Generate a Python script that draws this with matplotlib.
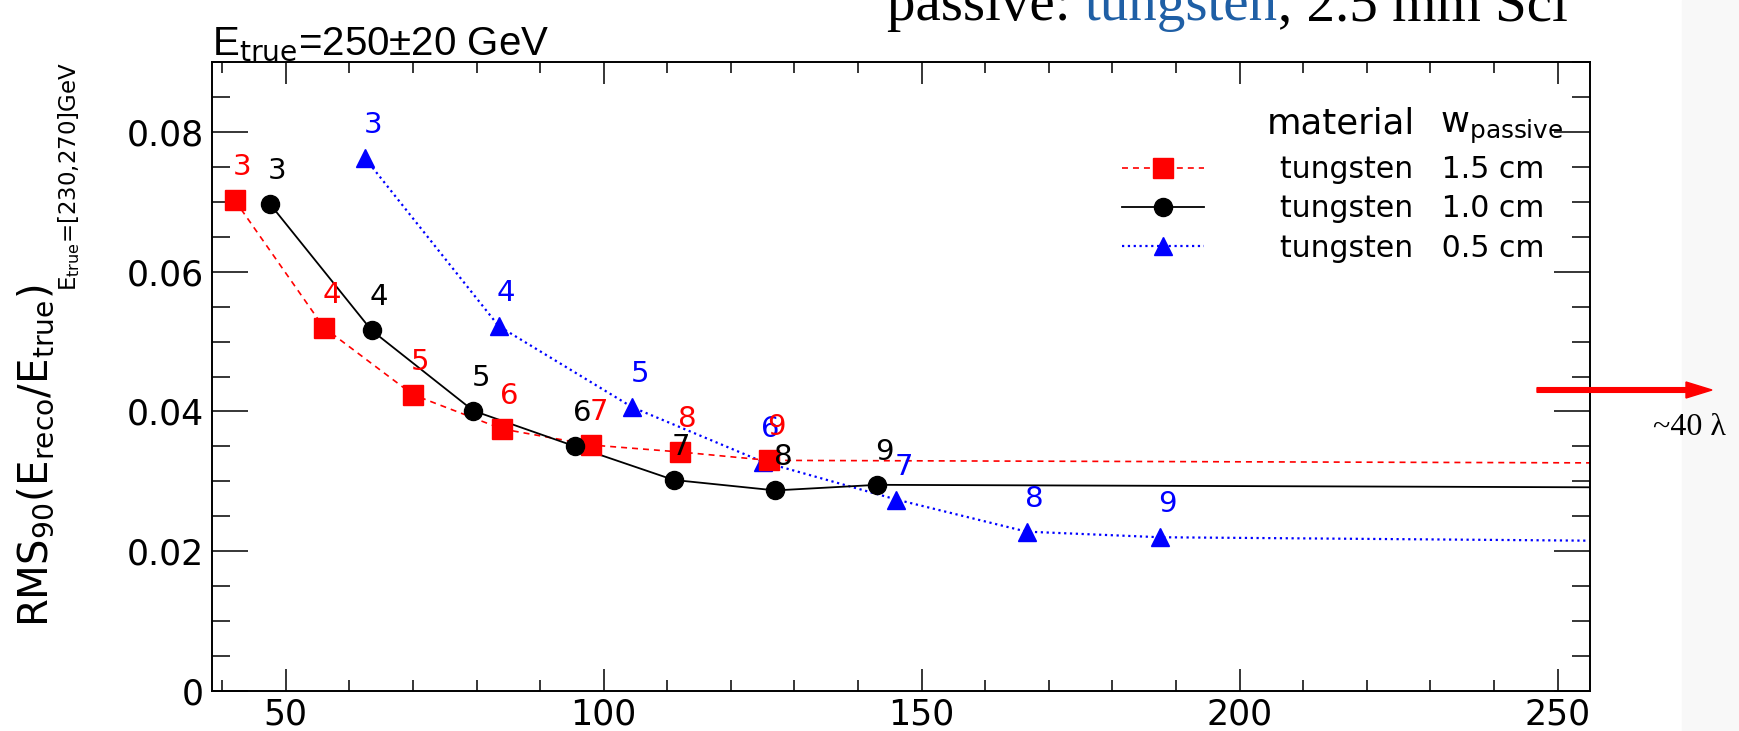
import matplotlib
matplotlib.use("Agg")

import matplotlib.pyplot as plt
from matplotlib.lines import Line2D
from matplotlib.patches import FancyArrow, Rectangle
from matplotlib.ticker import MultipleLocator, FixedLocator, FixedFormatter
from matplotlib.transforms import IdentityTransform

plt.rcParams["font.family"] = ["DejaVu Sans"]
plt.rcParams["mathtext.fontset"] = "dejavusans"
plt.rcParams["lines.scale_dashes"] = False

# layer count printed next to each point
LAYERS = ["3", "4", "5", "6", "7", "8", "9"]

# tungsten 1.5 cm
W15_X = [42, 56, 70, 84, 98, 112, 126]
W15_Y = [0.0702, 0.0520, 0.0424, 0.0375, 0.0352, 0.0342, 0.0330]
# tungsten 1.0 cm
W10_X = [47.5, 63.5, 79.5, 95.5, 111, 127, 143]
W10_Y = [0.0697, 0.0516, 0.0401, 0.0350, 0.0302, 0.0287, 0.0295]
# tungsten 0.5 cm
W05_X = [62.5, 83.5, 104.5, 125, 146, 166.5, 187.5]
W05_Y = [0.0762, 0.0522, 0.0406, 0.0328, 0.0274, 0.0228, 0.0220]

# unlabelled continuation of each curve past the right edge
W15_TAIL_X, W15_TAIL_Y = [270], [0.0326]
W10_TAIL_X, W10_TAIL_Y = [270], [0.0291]
W05_TAIL_X, W05_TAIL_Y = [270], [0.0214]

X_TICKS = [50, 100, 150, 200, 250]
X_TICK_LABELS = ["50", "100", "150", "200", "250"]
Y_TICKS = [0, 0.02, 0.04, 0.06, 0.08]
Y_TICK_LABELS = ["0", "0.02", "0.04", "0.06", "0.08"]

MATERIAL = "tungsten"
THICKNESS = ["1.5 cm", "1.0 cm", "0.5 cm"]

W, H = 1739, 731
fig = plt.figure(figsize=(W / 100, H / 100), dpi=100)
ax = fig.add_axes([212 / W, (H - 691) / H, (1590 - 212) / W, (691 - 62) / H])

styles = {
    "w15": dict(color="#ff0000", ls=(0, (4.3, 3.6)), lw=1.2, marker="s", ms=14),
    "w10": dict(color="black", ls="-", lw=1.3, marker="o", ms=13),
    "w05": dict(color="#0000ff", ls=(0, (1.6, 2.6)), lw=1.6, marker="^", ms=13),
}

series = [
    ("w05", W05_X, W05_Y, W05_TAIL_X, W05_TAIL_Y),
    ("w15", W15_X, W15_Y, W15_TAIL_X, W15_TAIL_Y),
    ("w10", W10_X, W10_Y, W10_TAIL_X, W10_TAIL_Y),
]

for key, xs, ys, tx, ty in series:
    st = styles[key]
    ax.plot(xs + tx, ys + ty, color=st["color"], ls=st["ls"], lw=st["lw"], zorder=2)
    ax.plot(xs, ys, ls="none", marker=st["marker"], ms=st["ms"],
            color=st["color"], mec=st["color"], zorder=3)
    for x, y, lab in zip(xs, ys, LAYERS):
        ax.annotate(lab, (x, y), xytext=(7.5, 33), textcoords="offset pixels",
                    ha="center", va="center", fontsize=21, color=st["color"], zorder=4)

ax.set_xlim(38.4, 255.1)
ax.set_ylim(0, 0.09)
ax.xaxis.set_major_locator(FixedLocator(X_TICKS))
ax.xaxis.set_major_formatter(FixedFormatter(X_TICK_LABELS))
ax.xaxis.set_minor_locator(MultipleLocator(10))
ax.yaxis.set_major_locator(FixedLocator(Y_TICKS))
ax.yaxis.set_major_formatter(FixedFormatter(Y_TICK_LABELS))
ax.yaxis.set_minor_locator(MultipleLocator(0.005))

ax.tick_params(which="both", direction="in", top=True, right=True, width=1.1, labelsize=25)
ax.tick_params(axis="x", which="major", length=16, pad=5)
ax.tick_params(axis="x", which="minor", length=8)
ax.tick_params(axis="y", which="major", length=26, pad=6)
ax.tick_params(axis="y", which="minor", length=13)
for sp in ax.spines.values():
    sp.set_linewidth(1.4)

# legend
handles = []
labels = []
for key, thick in zip(["w15", "w10", "w05"], THICKNESS):
    st = styles[key]
    handles.append(Line2D([], [], color=st["color"], ls=st["ls"], lw=st["lw"],
                          marker=st["marker"], ms=st["ms"], mec=st["color"]))
    labels.append(f"{MATERIAL}   {thick}")
ax.legend(handles, labels, loc="upper left", bbox_to_anchor=(1122 / W, 1 - 155 / H),
          bbox_transform=fig.transFigure, frameon=False, fontsize=21.5, numpoints=1,
          handlelength=2.75, handletextpad=2.55, labelspacing=0.35,
          borderpad=0, borderaxespad=0)
fig.text(1267 / W, 1 - 133 / H, "material", fontsize=25.5, va="baseline")
fig.text(1440 / W, 1 - 133 / H, r"w$_{\mathrm{passive}}$", fontsize=25.5, va="baseline")

# titles
fig.text(212 / W, 1 - 54 / H, "E$_{\\mathrm{true}}$=250±20 GeV", fontsize=29,
         family="Liberation Sans", math_fontfamily="custom", va="baseline")
fig.text(15 / W, 1 - 627 / H,
         r"RMS$_{\mathrm{90}}$(E$_{\mathrm{reco}}$/E$_{\mathrm{true}}$)",
         fontsize=29, rotation=90, ha="left", va="bottom")
fig.text(56 / W, 1 - 62 / H, r"E$_{\mathrm{true}}$=[230,270]GeV",
         fontsize=16.5, rotation=90, ha="left", va="top")

# slide decorations around the plot
fig.add_artist(Rectangle((1682 / W, 0), 57 / W, 1, transform=fig.transFigure,
                         color="#f8f8f8", zorder=0))
fig.add_artist(FancyArrow(1537, H - 390, 175, 0, width=4.7, head_width=16, head_length=26,
                          length_includes_head=True, color="#ff0000",
                          transform=IdentityTransform(), zorder=5))
fig.text(1653 / W, 1 - 435 / H, "~40 λ", fontsize=23, family="Liberation Serif",
         va="baseline", zorder=6)

SERIF = dict(fontsize=41, family="Liberation Serif", va="baseline")
t1 = fig.text(887 / W, 1 - 20 / H, "passive: ", **SERIF)
t2 = fig.text(0, 0, "tungsten", color="#1f5fa5", **SERIF)
fig.canvas.draw()
r = fig.canvas.get_renderer()
bb = t1.get_window_extent(r)
t2.set_position((bb.x1 / W, 1 - 20 / H))
bb2 = t2.get_window_extent(r)
fig.text(bb2.x1 / W, 1 - 20 / H, ", 2.5 mm Sci", **SERIF)

fig.savefig("out.png", dpi=100)
